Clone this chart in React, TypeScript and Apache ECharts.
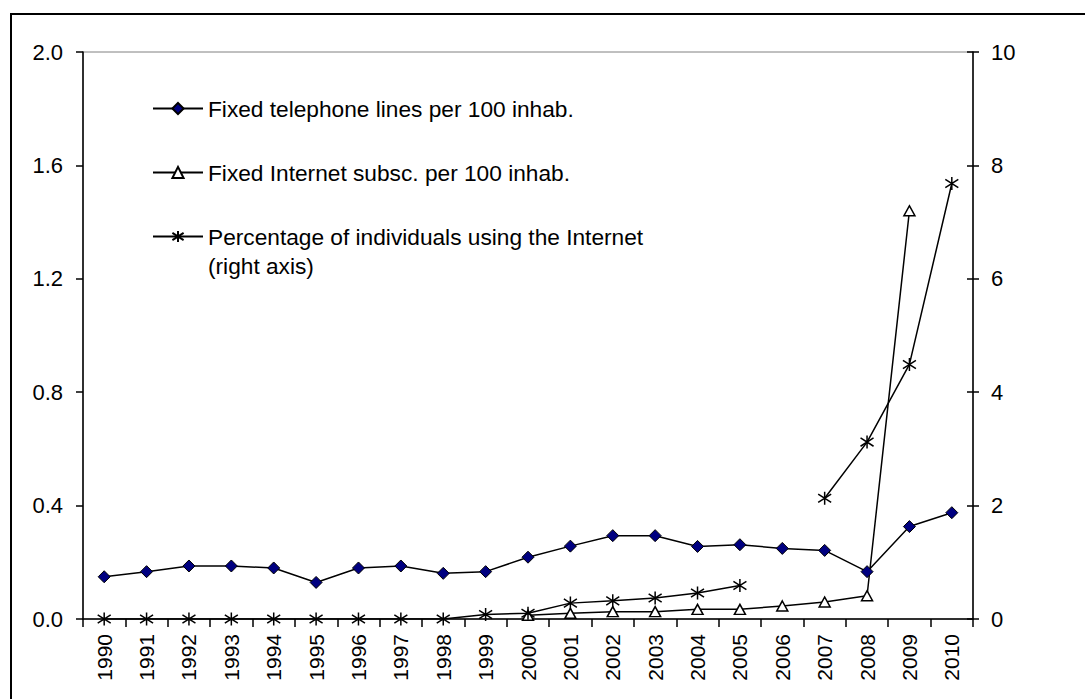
import React, { useEffect, useRef } from "react";
import * as echarts from "echarts";

const years = ["1990","1991","1992","1993","1994","1995","1996","1997","1998","1999","2000","2001","2002","2003","2004","2005","2006","2007","2008","2009","2010"];
const fixedTel = [0.149,0.167,0.187,0.187,0.18,0.129,0.18,0.187,0.161,0.167,0.218,0.257,0.294,0.294,0.256,0.262,0.249,0.242,0.167,0.326,0.375];
const fixedInternet = [null,null,null,null,null,null,null,null,null,null,0.013,0.02,0.026,0.026,0.034,0.034,0.046,0.06,0.082,1.44,null];
const internetUsers = [0,0,0,0,0,0,0,0,0,0.08,0.1,0.28,0.32,0.37,0.46,0.59,null,2.13,3.12,4.49,7.68];
const leftTicks = { min: 0, max: 2, interval: 0.4 };
const rightTicks = { min: 0, max: 10, interval: 2 };
const names = ["Fixed telephone lines per 100 inhab.", "Fixed Internet subsc. per 100 inhab.", "Percentage of individuals using the Internet"];

const FONT = "'Liberation Sans', Arial, sans-serif";
const STAR = "path://M0,-5L0,5M-4.5,-3.2L4.5,3.2M-4.5,3.2L4.5,-3.2";

export default function App() {
  const ref = useRef<HTMLDivElement>(null);
  useEffect(() => {
    document.body.style.margin = "0";
    const chart = echarts.init(ref.current!, null, { renderer: "svg" });
    chart.setOption({
      animation: false,
      backgroundColor: "#ffffff",
      textStyle: { fontFamily: FONT },
      grid: { left: 83, right: 112, top: 52, bottom: 80, show: true, borderColor: "#808080", borderWidth: 1 },
      legend: {
        show: true,
        orient: "vertical",
        left: 152,
        top: 95,
        padding: 0,
        itemWidth: 50,
        itemHeight: 14,
        itemGap: 37,
        itemTextGap: 6,
        selectedMode: false,
        textStyle: { fontFamily: FONT, fontSize: 22.7, color: "#000", lineHeight: 27 },
        data: names,
      },
      graphic: [
        { type: "rect", shape: { x: 11, y: 14, width: 1200, height: 800 }, style: { fill: "none", stroke: "#000", lineWidth: 2 }, silent: true },
        { type: "text", x: 208, y: 266, style: { text: "(right axis)", font: `22.7px ${FONT}`, fill: "#000", verticalAlign: "middle", textAlign: "left" }, silent: true },
      ],
      xAxis: {
        type: "category",
        data: years,
        boundaryGap: true,
        axisLine: { lineStyle: { color: "#000", width: 1.5 } },
        axisTick: { show: true, interval: 0, length: 8, lineStyle: { color: "#000", width: 1.5 } },
        axisLabel: { interval: 0, rotate: 90, margin: 15, fontSize: 21, color: "#000", fontFamily: FONT },
        splitLine: { show: false },
      },
      yAxis: [
        {
          type: "value",
          position: "left",
          min: leftTicks.min, max: leftTicks.max, interval: leftTicks.interval,
          axisLine: { show: true, lineStyle: { color: "#000", width: 1.5 } },
          axisTick: { show: true, length: 7, lineStyle: { color: "#000", width: 1.5 } },
          axisLabel: { margin: 20, fontSize: 22, color: "#000", fontFamily: FONT, formatter: (v: number) => v.toFixed(1) },
          splitLine: { show: false },
        },
        {
          type: "value",
          position: "right",
          min: rightTicks.min, max: rightTicks.max, interval: rightTicks.interval,
          axisLine: { show: true, lineStyle: { color: "#000", width: 1.5 } },
          axisTick: { show: true, length: 6, lineStyle: { color: "#000", width: 1.5 } },
          axisLabel: { margin: 18, fontSize: 22, color: "#000", fontFamily: FONT },
          splitLine: { show: false },
        },
        {
          type: "value",
          position: "right",
          min: rightTicks.min, max: rightTicks.max, interval: rightTicks.interval,
          axisLine: { show: false },
          axisTick: { show: true, inside: true, length: 6, lineStyle: { color: "#000", width: 1.5 } },
          axisLabel: { show: false },
          splitLine: { show: false },
        },
      ],
      series: [
        {
          name: names[0],
          type: "line",
          yAxisIndex: 0,
          data: fixedTel,
          symbol: "diamond",
          symbolSize: 12,
          showAllSymbol: true,
          itemStyle: { color: "#000080", borderColor: "#000", borderWidth: 1 },
          lineStyle: { color: "#000", width: 1.5 },
          z: 3,
        },
        {
          name: names[1],
          type: "line",
          yAxisIndex: 0,
          data: fixedInternet,
          symbol: "triangle",
          symbolSize: [11, 10],
          showAllSymbol: true,
          itemStyle: { color: "#fff", borderColor: "#000", borderWidth: 1.5 },
          lineStyle: { color: "#000", width: 1.5 },
          z: 2,
        },
        {
          name: names[2],
          type: "line",
          yAxisIndex: 1,
          data: internetUsers,
          symbol: STAR,
          symbolSize: 13,
          showAllSymbol: true,
          connectNulls: false,
          itemStyle: { color: "#000", borderColor: "#000", borderWidth: 1.5 },
          lineStyle: { color: "#000", width: 1.5 },
          z: 4,
        },
      ],
    });
    return () => chart.dispose();
  }, []);
  return <div ref={ref} style={{ width: 1085, height: 699 }} />;
}
